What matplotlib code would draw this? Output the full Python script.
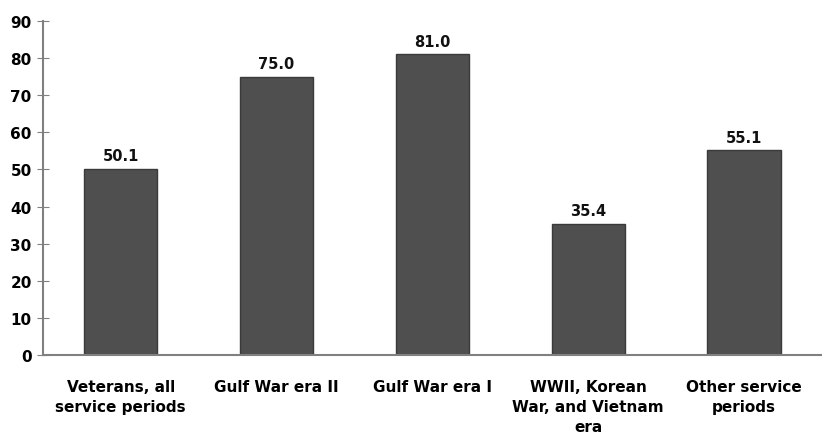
import matplotlib
matplotlib.use("Agg")
import matplotlib.pyplot as plt

categories = ["Veterans, all\nservice periods", "Gulf War era II", "Gulf War era I",
              "WWII, Korean\nWar, and Vietnam\nera", "Other service\nperiods"]
values = [50.1, 75.0, 81.0, 35.4, 55.1]
yticks = [0, 10, 20, 30, 40, 50, 60, 70, 80, 90]

fig = plt.figure(figsize=(8.22, 4.39), dpi=100)
ax = fig.add_axes([0.052, 0.189, 0.948, 0.761])
x = list(range(len(categories)))
bars = ax.bar(x, values, width=0.47, color="#4f4f4f", edgecolor="#3a3a3a", linewidth=1)
for xi, v in zip(x, values):
    ax.text(xi, v + 1.5, f"{v:.1f}", ha="center", va="bottom", fontsize=10.5,
            fontweight="bold", color="#111111")
ax.set_xlim(-0.5, 4.5)
ax.set_ylim(0, 90)
ax.set_yticks(yticks)
ax.set_yticklabels([str(t) for t in yticks], fontsize=11, fontweight="bold")
ax.set_xticks(x)
ax.set_xticklabels(categories, fontsize=11, fontweight="bold", linespacing=1.45)
ax.tick_params(axis="x", length=0, pad=17)
ax.tick_params(axis="y", direction="inout", length=8, color="#808080", pad=4)
for s in ["top", "right"]:
    ax.spines[s].set_visible(False)
for s in ["left", "bottom"]:
    ax.spines[s].set_color("#808080")
    ax.spines[s].set_linewidth(1.5)
fig.savefig("out.png", dpi=100)
